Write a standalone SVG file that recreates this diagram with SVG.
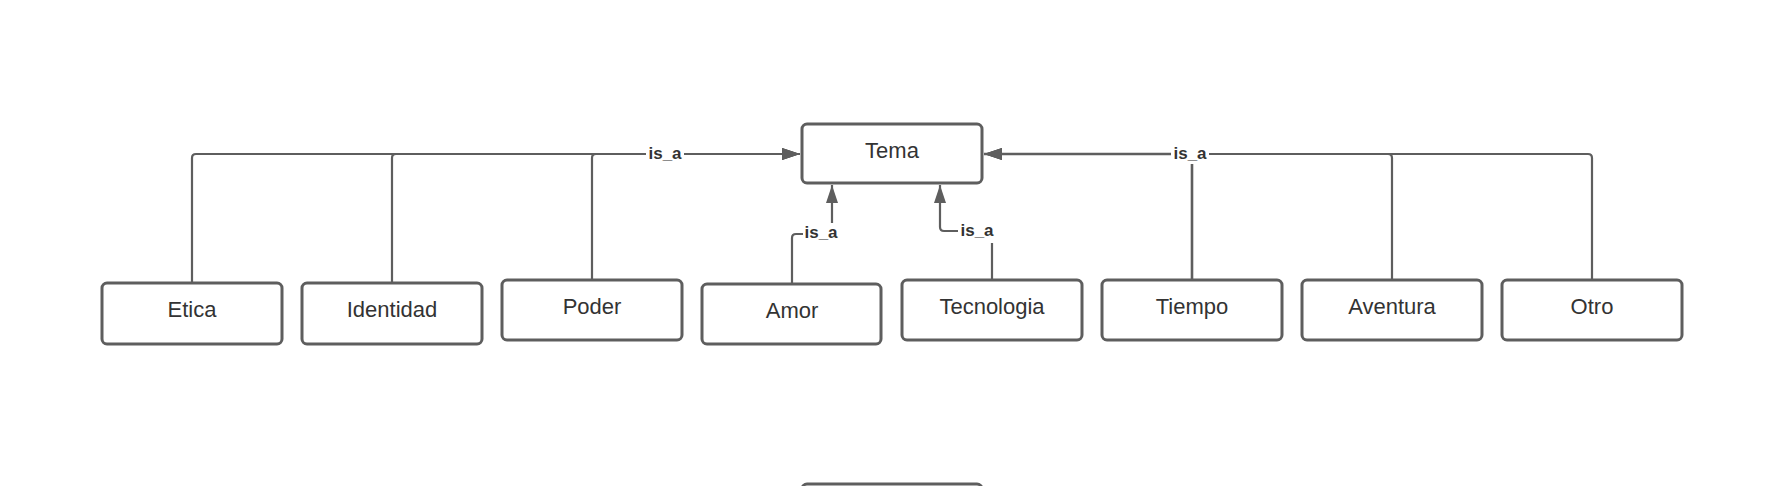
<svg xmlns="http://www.w3.org/2000/svg" width="1766" height="486" viewBox="0 0 1766 486">
<style>
.box{fill:#ffffff;stroke:#5e5e5e;stroke-width:3}
.lbl{font-family:"Liberation Sans",Arial,sans-serif;font-size:22px;fill:#333333;text-anchor:middle}
.con{fill:none;stroke:#5e5e5e;stroke-width:2.2}
.ea{font-family:"Liberation Sans",Arial,sans-serif;font-size:17px;font-weight:bold;fill:#333333;text-anchor:middle}
.eabg{fill:#ffffff}
</style>
<defs>
<marker id="arr" viewBox="0 0 18 12" refX="18" refY="6" markerWidth="18" markerHeight="12" orient="auto" markerUnits="userSpaceOnUse">
<path d="M0,0 L18,6 L0,12 z" fill="#5e5e5e"/>
</marker>
</defs>
<rect width="1766" height="486" fill="#ffffff"/>
<g id="connectors">
<path class="con" d="M192,283 L192,158 Q192,154 196,154 L800,154" marker-end="url(#arr)"/>
<path class="con" d="M392,283 L392,158 Q392,154 396,154 L800,154" marker-end="url(#arr)"/>
<path class="con" d="M592,280 L592,158 Q592,154 596,154 L800,154" marker-end="url(#arr)"/>
<path class="con" d="M1192,279 L1192,154 L984,154" marker-end="url(#arr)" style="stroke-width:2.6"/>
<path class="con" d="M1392,279 L1392,158 Q1392,154 1388,154 L984,154" marker-end="url(#arr)"/>
<path class="con" d="M1592,279 L1592,158 Q1592,154 1588,154 L984,154" marker-end="url(#arr)"/>
<path class="con" d="M792,284 L792,238 Q792,234 796,234 L828,234 Q832,234 832,230 L832,185" marker-end="url(#arr)"/>
<path class="con" d="M992,279 L992,235 Q992,231 988,231 L944,231 Q940,231 940,227 L940,185" marker-end="url(#arr)"/>
<rect class="eabg" x="646" y="145" width="38" height="19"/>
<text class="ea" x="665" y="158.5">is_a</text>
<rect class="eabg" x="1171" y="145" width="38" height="19"/>
<text class="ea" x="1190" y="158.5">is_a</text>
<rect class="eabg" x="803" y="223" width="37" height="19"/>
<text class="ea" x="821" y="237.5">is_a</text>
<rect class="eabg" x="958" y="221" width="39" height="22"/>
<text class="ea" x="977" y="236">is_a</text>
</g>
<g id="tema"><rect class="box" x="802" y="124" width="180" height="59" rx="5"/><text class="lbl" x="892" y="158">Tema</text></g>
<g id="etica"><rect class="box" x="102" y="283" width="180" height="61" rx="5"/><text class="lbl" x="192" y="317">Etica</text></g>
<g id="identidad"><rect class="box" x="302" y="283" width="180" height="61" rx="5"/><text class="lbl" x="392" y="317">Identidad</text></g>
<g id="poder"><rect class="box" x="502" y="280" width="180" height="60" rx="5"/><text class="lbl" x="592" y="314">Poder</text></g>
<g id="amor"><rect class="box" x="702" y="284" width="179" height="60" rx="5"/><text class="lbl" x="792" y="318">Amor</text></g>
<g id="tecnologia"><rect class="box" x="902" y="280" width="180" height="60" rx="5"/><text class="lbl" x="992" y="314">Tecnologia</text></g>
<g id="tiempo"><rect class="box" x="1102" y="280" width="180" height="60" rx="5"/><text class="lbl" x="1192" y="314">Tiempo</text></g>
<g id="aventura"><rect class="box" x="1302" y="280" width="180" height="60" rx="5"/><text class="lbl" x="1392" y="314">Aventura</text></g>
<g id="otro"><rect class="box" x="1502" y="280" width="180" height="60" rx="5"/><text class="lbl" x="1592" y="314">Otro</text></g>
<g id="bottom-node"><rect class="box" x="802" y="484" width="180" height="60" rx="5"/></g>
</svg>
